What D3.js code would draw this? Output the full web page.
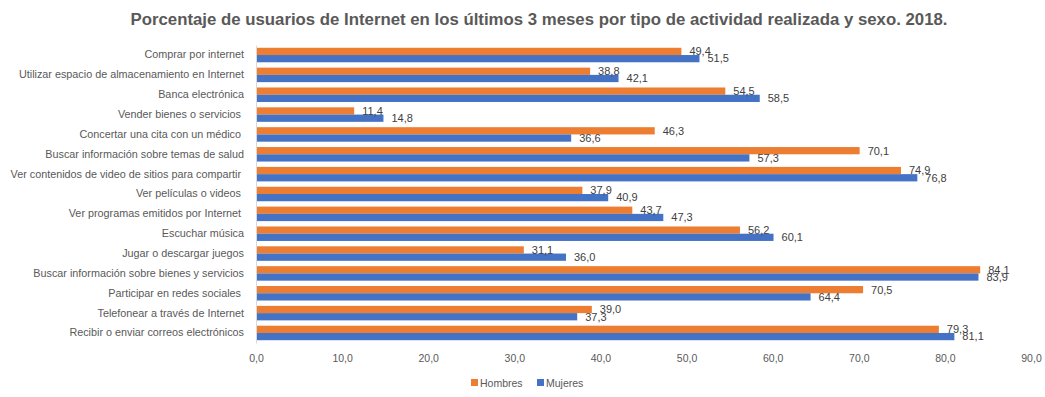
<!DOCTYPE html>
<html>
<head>
<meta charset="utf-8">
<script src="https://cdn.jsdelivr.net/npm/d3@7"></script>
<style>
  body { margin: 0; background: #fff; }
  text { font-family: "Liberation Sans", Arial, sans-serif; fill: #595959; }
</style>
</head>
<body>
<svg id="chart" width="1045" height="397"></svg>
<script>
// categories from top to bottom, as in the picture
const categories = [
  "Comprar por internet",
  "Utilizar espacio de almacenamiento en Internet",
  "Banca electrónica",
  "Vender bienes o servicios ",
  "Concertar una cita con un médico ",
  "Buscar información sobre temas de salud",
  "Ver contenidos de video de sitios para compartir ",
  "Ver películas o videos ",
  "Ver programas emitidos por Internet ",
  "Escuchar música",
  "Jugar o descargar juegos",
  "Buscar información sobre bienes y servicios",
  "Participar en redes sociales ",
  "Telefonear a través de Internet",
  "Recibir o enviar correos electrónicos"
];
const hombres = [49.4, 38.8, 54.5, 11.4, 46.3, 70.1, 74.9, 37.9, 43.7, 56.2, 31.1, 84.1, 70.5, 39.0, 79.3];
const mujeres = [51.5, 42.1, 58.5, 14.8, 36.6, 57.3, 76.8, 40.9, 47.3, 60.1, 36.0, 83.9, 64.4, 37.3, 81.1];
const series = ["Hombres", "Mujeres"];
const xTicks = [0, 10, 20, 30, 40, 50, 60, 70, 80, 90];

const colors = {"Hombres": "#ED7D31", "Mujeres": "#4472C4"};
const fmt = v => v.toFixed(1).replace(".", ",");

const svg = d3.select("#chart");
const mLeft = 256, mRight = 1031, mTop = 45, mBottom = 343;

const x = d3.scaleLinear().domain([0, 90]).range([mLeft, mRight]);
const y = d3.scaleBand().domain(categories).range([mTop, mBottom]).paddingInner(0.27).paddingOuter(0.14);
const ySub = d3.scaleBand().domain(series).range([0, y.bandwidth()]);

// title
svg.append("text")
  .attr("x", 539).attr("y", 25)
  .attr("text-anchor", "middle")
  .style("font-size", "16.8px").style("font-weight", "bold")
  .text("Porcentaje de usuarios de Internet en los últimos 3 meses por tipo de actividad realizada y sexo. 2018.");

const rows = categories.map((c, i) => ({cat: c, vals: [
  {s: "Hombres", v: hombres[i]},
  {s: "Mujeres", v: mujeres[i]}
]}));

const g = svg.append("g");
const grp = g.selectAll("g.row").data(rows).enter().append("g")
  .attr("transform", d => `translate(0,${y(d.cat)})`);

grp.selectAll("rect").data(d => d.vals).enter().append("rect")
  .attr("x", x(0))
  .attr("y", d => ySub(d.s))
  .attr("width", d => x(d.v) - x(0))
  .attr("height", ySub.bandwidth())
  .attr("fill", d => colors[d.s]);

grp.selectAll("text.val").data(d => d.vals).enter().append("text")
  .attr("class", "val")
  .attr("x", d => x(d.v) + 8)
  .attr("y", d => ySub(d.s) + ySub.bandwidth() / 2)
  .attr("dy", "0.35em")
  .style("font-size", "11px")
  .style("fill", "#404040")
  .text(d => fmt(d.v));

// category axis
const yAxis = d3.axisLeft(y).tickSize(0).tickPadding(12);
const ya = svg.append("g").attr("transform", `translate(${mLeft},0)`).call(yAxis);
ya.select(".domain").attr("stroke", "#d9d9d9");
ya.selectAll("text").style("font-size", "10.8px").style("fill", "#595959")
  .attr("font-family", null).style("white-space", "pre");

// value axis
const xAxis = d3.axisBottom(x).tickValues(xTicks).tickSize(0).tickPadding(12).tickFormat(fmt);
const xa = svg.append("g").attr("transform", `translate(0,${mBottom})`).call(xAxis);
xa.select(".domain").remove();
xa.selectAll("text").style("font-size", "10.5px").style("fill", "#595959").attr("font-family", null);

// legend
const legend = svg.append("g").attr("transform", "translate(471,383)");
const items = [{s: "Hombres", dx: 0}, {s: "Mujeres", dx: 66}];
items.forEach(it => {
  legend.append("rect").attr("x", it.dx).attr("y", -4).attr("width", 7).attr("height", 7).attr("fill", colors[it.s]);
  legend.append("text").attr("x", it.dx + 9).attr("y", 0).attr("dy", "0.35em")
    .style("font-size", "10.5px").text(it.s);
});
</script>
</body>
</html>
